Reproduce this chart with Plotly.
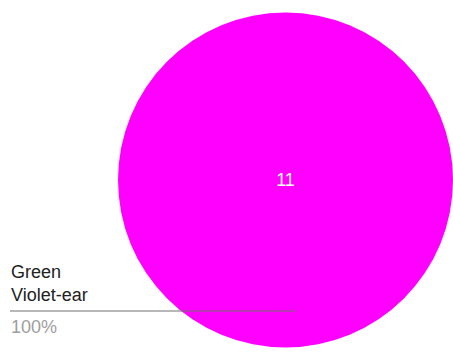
import plotly.graph_objects as go

labels = ["Green Violet-ear"]
values = [11]
percents = ["100%"]
colors = ["#ff00ff"]

FONT = "Liberation Sans, Arial, sans-serif"
W, H = 453, 353

fig = go.Figure()
fig.add_trace(go.Pie(
    labels=labels,
    values=values,
    marker=dict(colors=colors, line=dict(width=0)),
    textinfo="value",
    textposition="inside",
    insidetextfont=dict(color="white", size=18, family=FONT),
    domain=dict(x=[0.2605, 1.0], y=[0.014, 0.966]),
    sort=False,
    showlegend=False,
    hoverinfo="label+value+percent",
))

fig.add_shape(type="line", xref="paper", yref="paper",
              x0=10/W, x1=295/W, y0=1-311/H, y1=1-311/H,
              line=dict(color="#707070", width=1))

name_lines = labels[0].split(" ")
for i, line in enumerate(name_lines):
    fig.add_annotation(xref="paper", yref="paper", x=9/W, y=1-(272 + 23*i)/H,
                       xanchor="left", yanchor="middle", align="left",
                       text=line, showarrow=False,
                       font=dict(size=18, color="#222222", family=FONT))
fig.add_annotation(xref="paper", yref="paper", x=9/W, y=1-327/H,
                   xanchor="left", yanchor="middle", align="left",
                   text=percents[0], showarrow=False,
                   font=dict(size=18, color="#9e9e9e", family=FONT))

fig.update_layout(width=W, height=H, margin=dict(l=0, r=0, t=0, b=0),
                  paper_bgcolor="white", plot_bgcolor="white")
fig.write_html("out.html")
